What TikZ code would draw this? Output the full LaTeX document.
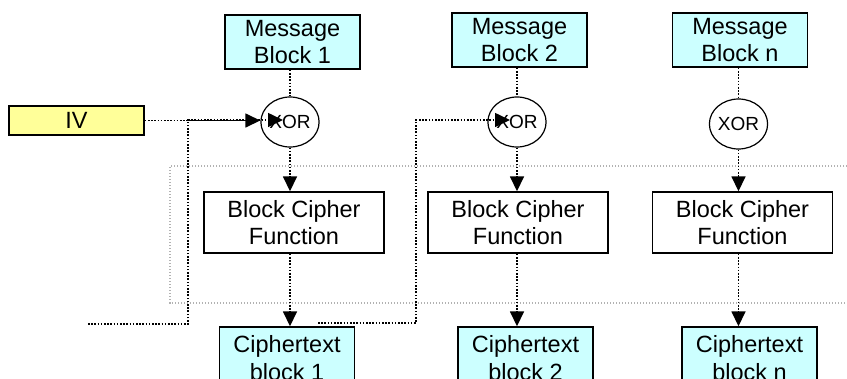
\documentclass[tikz,border=0pt]{standalone}
\usepackage{fontspec}
\setmainfont{Liberation Sans}
\usetikzlibrary{arrows.meta,shapes.geometric}
\definecolor{msgcyan}{HTML}{CCFFFF}
\definecolor{ivyellow}{HTML}{FFFF99}
\begin{document}
\begin{tikzpicture}[x=1pt,y=-1pt,
    box/.style={draw,line width=1.4pt,inner sep=0pt,align=center,font=\fontsize{23.5}{27.5}\selectfont},
    msgbox/.style={box,fill=msgcyan,minimum width=135pt,minimum height=54pt},
    ctbox/.style={box,fill=msgcyan,minimum width=135pt,minimum height=62pt},
    cipherbox/.style={box,minimum width=180pt,minimum height=61pt},
    ivbox/.style={box,fill=ivyellow,minimum width=135pt,minimum height=29pt},
    xorgate/.style={draw,ellipse,line width=1.2pt,inner sep=0pt,minimum width=57pt,minimum height=50pt,font=\fontsize{19}{22}\selectfont},
    flow/.style={line width=1.6pt,dash pattern=on 1.6pt off 1.6pt},
    tip/.style={-{Triangle[length=15pt,width=14pt]}},
    frame/.style={gray!60,line width=1.2pt,dash pattern=on 1.2pt off 1.8pt}]
            \useasboundingbox (0,0) rectangle (847,378);
            \draw[frame] (850,166) -- (170,166) -- (170,303) -- (850,303);
            \node[msgbox] (msg1) at (292.5,42) {Message\\Block 1};
            \node[msgbox] (msg2) at (519.5,40) {Message\\Block 2};
            \node[msgbox] (msgn) at (740,40) {Message\\Block n};
            \node[ivbox] (iv) at (76.5,120.5) {IV};
            \node[xorgate] (xor1) at (290,122) {XOR};
            \node[xorgate] (xor2) at (517,122) {XOR};
            \node[xorgate] (xorn) at (738.5,124) {XOR};
            \node[cipherbox] (bcf1) at (294,222.5) {Block Cipher\\Function};
            \node[cipherbox] (bcf2) at (518,222.5) {Block Cipher\\Function};
            \node[cipherbox] (bcfn) at (742.5,222.5) {Block Cipher\\Function};
            \node[ctbox] (ct1) at (287,358) {Ciphertext\\block 1};
            \node[ctbox] (ct2) at (525.5,358) {Ciphertext\\block 2};
            \node[ctbox] (ctn) at (749.5,358) {Ciphertext\\block n};
            \foreach \c in {1,2,n} {
                \draw[flow] (msg\c.south -| xor\c) -- (xor\c.north);
                \draw[flow,tip] (xor\c.south) -- (xor\c.south |- bcf\c.north);
                \draw[flow,tip] (bcf\c.south -| xor\c) -- (xor\c |- ct\c.north);
            }
            \coordinate (fb1) at (88,324);
            \coordinate (fb2) at (318,323);
            \draw[flow,tip] (iv.east) -- (iv.east -| xor1.west);
            \draw[flow,tip] (fb1) -- ++(100,0) |- ([xshift=-7pt,yshift=2pt]xor1.center);
            \draw[flow,tip] (fb2) -- ++(98,0) |- ([xshift=-7pt,yshift=2pt]xor2.center);
        \end{tikzpicture}
\end{document}
